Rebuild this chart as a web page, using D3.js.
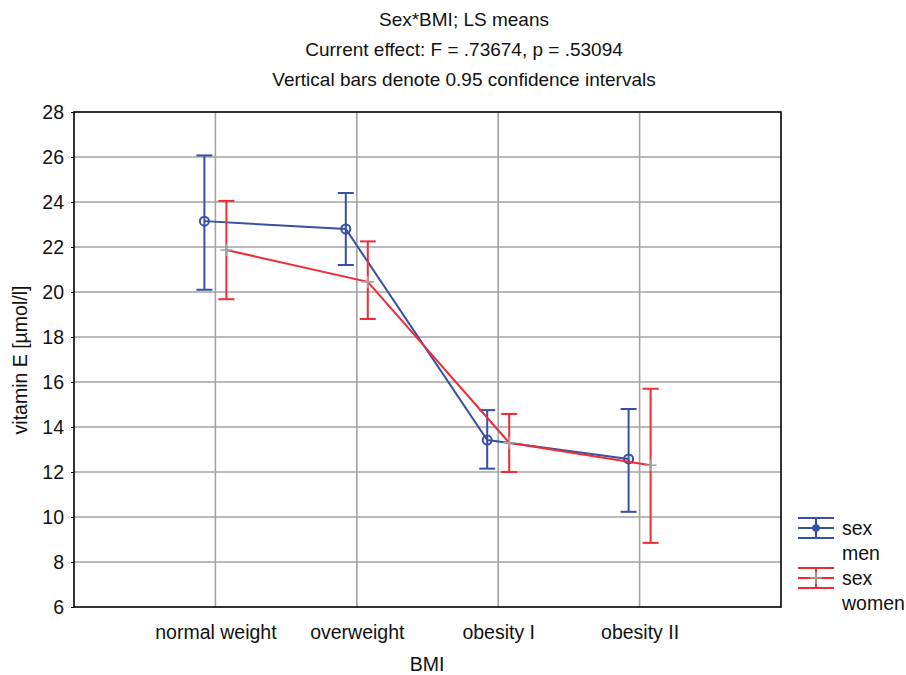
<!DOCTYPE html>
<html>
<head>
<meta charset="utf-8">
<script src="https://cdn.jsdelivr.net/npm/d3@7"></script>
<style>
body { margin: 0; background: #fff; }
text { font-family: "Liberation Sans", Arial, sans-serif; fill: #111; }
</style>
</head>
<body>
<svg id="view" width="906" height="675"></svg>
<script>
var view = d3.select('#view');

// data
const categories = ['normal weight', 'overweight', 'obesity I', 'obesity II'];
const menMean = [23.15, 22.8, 13.42, 12.58];
const menLow = [20.1, 21.2, 12.15, 10.23];
const menHigh = [26.07, 24.4, 14.75, 14.8];
const womenMean = [21.87, 20.45, 13.3, 12.3];
const womenLow = [19.68, 18.8, 12.0, 8.85];
const womenHigh = [24.05, 22.25, 14.58, 15.7];
const yTicks = [6, 8, 10, 12, 14, 16, 18, 20, 22, 24, 26, 28];
const titles = ['Sex*BMI; LS means', 'Current effect: F = .73674, p = .53094', 'Vertical bars denote 0.95 confidence intervals'];

const BLUE = '#3550a5', RED = '#ef2b36', GRID = '#a3a3a3';
const L = 74, R = 781, T = 112, B = 607;
const OFF = 11, CAP = 8, FS = 19.5;

var x = d3.scalePoint().domain(['', ...categories, ' ']).range([L, R]);
var y = d3.scaleLinear().domain([6, 28]).range([B, T]);

// titles
view.selectAll('text.title').data(titles).enter().append('text')
    .attr('class', 'title')
    .attr('x', 464).attr('y', (d, i) => 26 + i * 30)
    .attr('text-anchor', 'middle')
    .attr('font-size', 19)
    .text(d => d);

// grid
view.append('g').selectAll('line').data(yTicks.slice(1, -1)).enter().append('line')
    .attr('x1', L).attr('x2', R)
    .attr('y1', d => y(d)).attr('y2', d => y(d))
    .attr('stroke', GRID).attr('stroke-width', 1.6);
view.append('g').selectAll('line').data(categories).enter().append('line')
    .attr('x1', d => x(d)).attr('x2', d => x(d))
    .attr('y1', T).attr('y2', B)
    .attr('stroke', GRID).attr('stroke-width', 1.6);

// axes
var yAxis = view.append('g').attr('transform', 'translate(' + L + ',0)')
    .call(d3.axisLeft(y).tickValues(yTicks).tickSize(3).tickPadding(7));
var xAxis = view.append('g').attr('transform', 'translate(0,' + B + ')')
    .call(d3.axisBottom(x).tickValues(categories).tickSize(0).tickPadding(18));
[yAxis, xAxis].forEach(function(a) {
    a.select('.domain').remove();
    a.selectAll('text').attr('font-size', FS).attr('font-family', '"Liberation Sans", Arial, sans-serif').attr('fill', '#111');
    a.selectAll('line').attr('stroke', '#000');
});
view.append('rect')
    .attr('x', L).attr('y', T).attr('width', R - L).attr('height', B - T)
    .attr('fill', 'none').attr('stroke', '#000').attr('stroke-width', 1.6);

// axis titles
view.append('text').attr('x', 427).attr('y', 671).attr('text-anchor', 'middle')
    .attr('font-size', FS).text('BMI');
view.append('text').attr('transform', 'translate(27,' + 360 + ') rotate(-90)')
    .attr('text-anchor', 'middle').attr('font-size', FS).text('vitamin E [µmol/l]');

// series
var series = [
    {name: 'men', color: BLUE, off: -OFF, mean: menMean, low: menLow, high: menHigh},
    {name: 'women', color: RED, off: OFF, mean: womenMean, low: womenLow, high: womenHigh}
];
series.forEach(function(s) {
    var g = view.append('g');
    var pts = categories.map((c, i) => ({x: x(c) + s.off, m: s.mean[i], lo: s.low[i], hi: s.high[i]}));
    g.selectAll('line.bar').data(pts).enter().append('line')
        .attr('x1', d => d.x).attr('x2', d => d.x)
        .attr('y1', d => y(d.lo)).attr('y2', d => y(d.hi))
        .attr('stroke', s.color).attr('stroke-width', 2);
    ['lo', 'hi'].forEach(function(k) {
        g.selectAll('line.cap' + k).data(pts).enter().append('line')
            .attr('x1', d => d.x - CAP).attr('x2', d => d.x + CAP)
            .attr('y1', d => y(d[k])).attr('y2', d => y(d[k]))
            .attr('stroke', s.color).attr('stroke-width', 2);
    });
    g.append('path').datum(pts)
        .attr('d', d3.line().x(d => d.x).y(d => y(d.m)))
        .attr('fill', 'none').attr('stroke', s.color).attr('stroke-width', 2);
    if (s.name == 'men') {
        g.selectAll('circle').data(pts).enter().append('circle')
            .attr('cx', d => d.x).attr('cy', d => y(d.m)).attr('r', 4.5)
            .attr('fill', 'none').attr('stroke', s.color).attr('stroke-width', 2);
    } else {
        g.selectAll('path.cross').data(pts).enter().append('path')
            .attr('d', d => 'M' + (d.x - 6) + ',' + y(d.m) + 'h12M' + d.x + ',' + (y(d.m) - 6) + 'v12')
            .attr('stroke', GRID).attr('stroke-width', 1.6);
    }
});

// legend
var leg = view.append('g');
series.forEach(function(s, i) {
    var cy = 528 + i * 50, x0 = 798, x1 = 834, xm = 816;
    [-10, 0, 10].forEach(function(dy) {
        leg.append('line').attr('x1', x0).attr('x2', x1).attr('y1', cy + dy).attr('y2', cy + dy)
            .attr('stroke', s.color).attr('stroke-width', 2);
    });
    leg.append('line').attr('x1', xm).attr('x2', xm).attr('y1', cy - 10).attr('y2', cy + 10)
        .attr('stroke', s.color).attr('stroke-width', 2);
    if (s.name == 'men') {
        leg.append('circle').attr('cx', xm).attr('cy', cy).attr('r', 3.5)
            .attr('fill', s.color).attr('stroke', s.color);
    } else {
        leg.append('path').attr('d', 'M' + (xm - 6) + ',' + cy + 'h12M' + xm + ',' + (cy - 6) + 'v12')
            .attr('stroke', GRID).attr('stroke-width', 1.6);
    }
    leg.append('text').attr('x', 842).attr('y', cy + 7).attr('font-size', FS).text('sex');
    leg.append('text').attr('x', 842).attr('y', cy + 32).attr('font-size', FS).text(s.name);
});
</script>
</body>
</html>
